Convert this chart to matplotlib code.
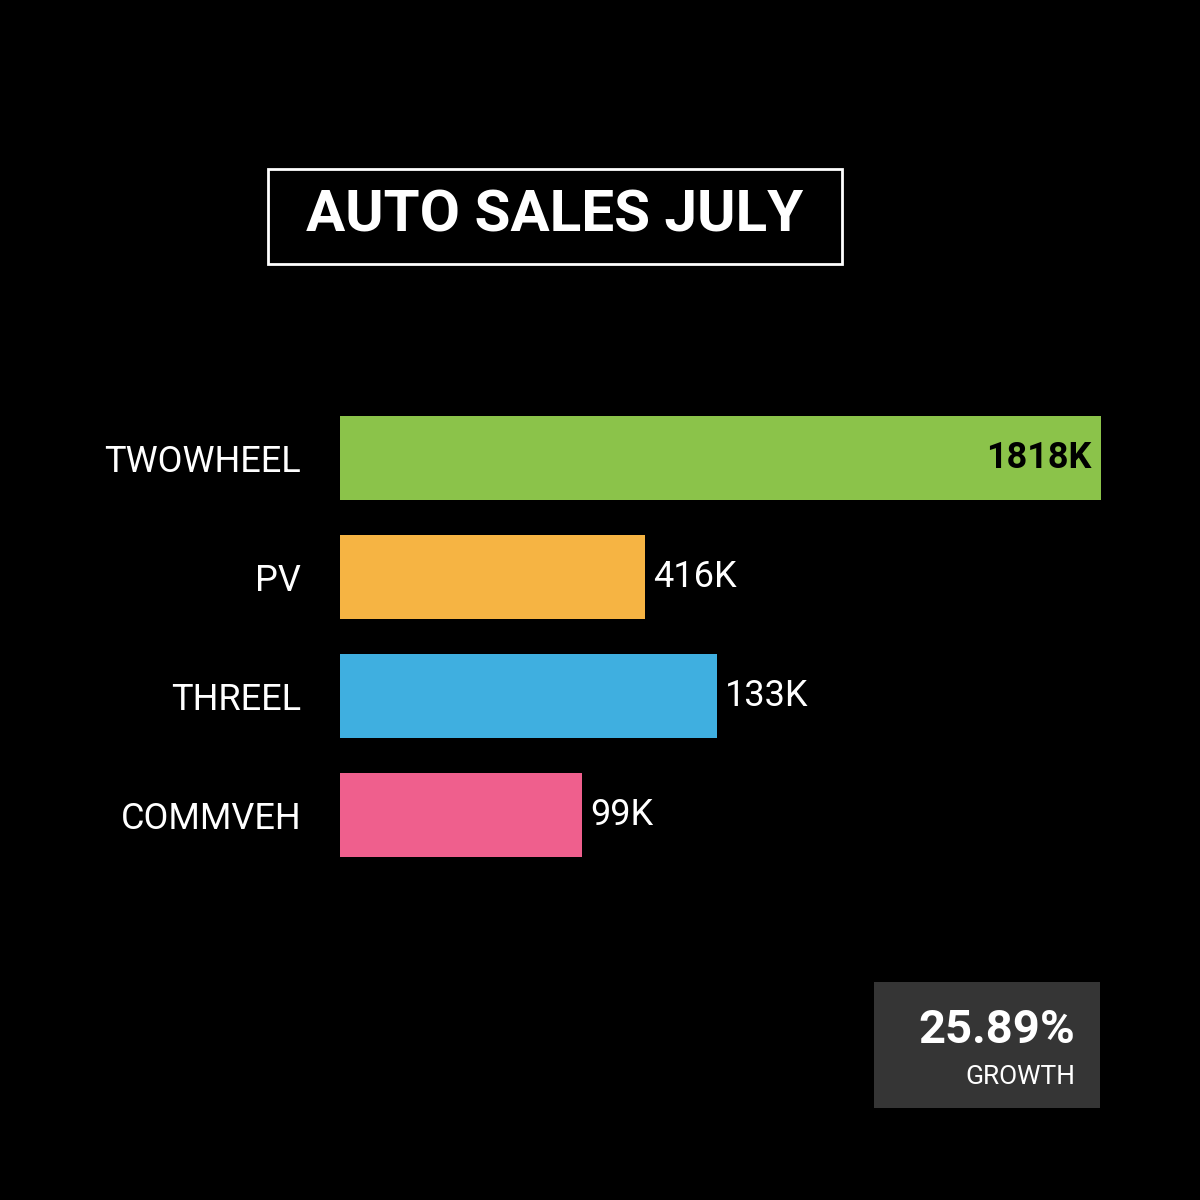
import matplotlib
matplotlib.use("Agg")
import matplotlib.pyplot as plt
from matplotlib.patches import Rectangle

categories = ["TWOWHEEL", "PV", "THREEL", "COMMVEH"]
value_labels = ["1818K", "416K", "133K", "99K"]
bar_lengths = [761, 305, 377, 242]  # displayed (animated frame) bar lengths
colors = ["#8BC34A", "#F6B443", "#3FAFE0", "#EF5F8D"]
title = "AUTO SALES JULY"
growth = "25.89%"
growth_label = "GROWTH"

plt.rcParams['font.family'] = ['Roboto', 'DejaVu Sans']
fig = plt.figure(figsize=(12, 12), dpi=100, facecolor="black")

ax = fig.add_axes([340/1200, 1-875/1200, 761/1200, 475/1200])
ax.set_facecolor("black")
ys = range(len(categories))
ax.barh(ys, bar_lengths, height=0.7, color=colors)
ax.set_xlim(0, 761)
ax.set_ylim(3 + 60/119, -58/119)
for s in ax.spines.values():
    s.set_visible(False)
ax.set_xticks([])
ax.set_yticks(list(ys))
ax.set_yticklabels(categories, color="white", fontsize=26)
ax.tick_params(axis="y", length=0, pad=28)
for i, (l, lab) in enumerate(zip(bar_lengths, value_labels)):
    if i == 0:
        ax.text(l - 10, i, lab, ha="right", va="center", color="black",
                fontsize=26, fontweight="bold")
    else:
        ax.text(l + 8, i, lab, ha="left", va="center", color="white", fontsize=26)

# title box
fig.patches.append(Rectangle((268/1200, 1-264/1200), 574/1200, 95/1200,
                             transform=fig.transFigure, fill=False,
                             edgecolor="white", linewidth=2))
fig.text(555/1200, 1-216/1200, title, ha="center", va="center",
         color="white", fontsize=42, fontweight="bold")

# growth box
fig.patches.append(Rectangle((874/1200, 1-1108/1200), 226/1200, 126/1200,
                             transform=fig.transFigure, facecolor="#353535",
                             edgecolor="none"))
fig.text(1075/1200, 1-1030/1200, growth, ha="right", va="center",
         color="white", fontsize=34, fontweight="bold")
fig.text(1075/1200, 1-1077/1200, growth_label, ha="right", va="center",
         color="white", fontsize=19)

fig.savefig("out.png", dpi=100, facecolor="black")
